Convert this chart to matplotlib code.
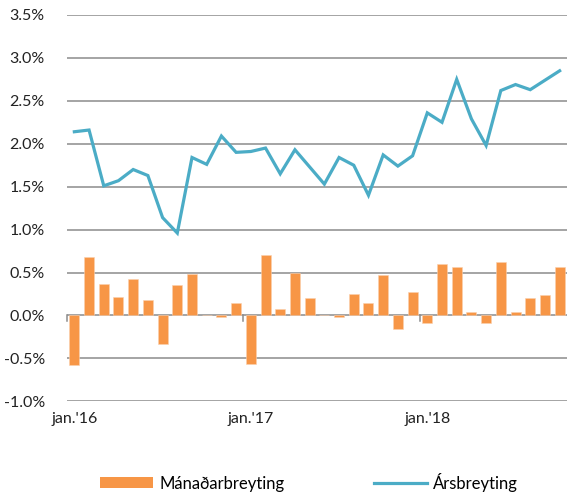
import matplotlib
matplotlib.use("Agg")
import matplotlib.pyplot as plt
from matplotlib.patches import Patch
from matplotlib.lines import Line2D
import numpy as np

plt.rcParams['font.family'] = ['Lato', 'DejaVu Sans']

monthly = [-0.58, 0.68, 0.37, 0.21, 0.42, 0.18, -0.33, 0.35, 0.48, 0.0,
           -0.02, 0.14, -0.57, 0.71, 0.07, 0.50, 0.20, 0.0, -0.02, 0.25,
           0.14, 0.47, -0.16, 0.27, -0.09, 0.60, 0.56, 0.04, -0.09, 0.62,
           0.04, 0.20, 0.24, 0.57]
annual = [2.14, 2.16, 1.51, 1.57, 1.70, 1.63, 1.14, 0.96, 1.84, 1.76,
          2.09, 1.90, 1.91, 1.95, 1.65, 1.93, 1.73, 1.53, 1.84, 1.75,
          1.40, 1.87, 1.74, 1.86, 2.36, 2.25, 2.75, 2.29, 1.98, 2.62,
          2.69, 2.63, 2.74, 2.85]
yticks = [-1.0, -0.5, 0.0, 0.5, 1.0, 1.5, 2.0, 2.5, 3.0, 3.5]
xlabel_idx = [0, 12, 24]
xlabels = ["jan.'16", "jan.'17", "jan.'18"]

orange = '#F79646'
aqua = '#4BACC6'
grid = '#8C8C8C'

fig = plt.figure(figsize=(5.67, 4.96), dpi=100)
ax = fig.add_axes([67/567, 1 - 401.3/496, 500/567, (401.3 - 15)/496])

x = np.arange(len(monthly))
ax.bar(x, monthly, width=0.68, color=orange, edgecolor='#FBD0AE', linewidth=0.4, zorder=3)
ax.plot(x, annual, color=aqua, linewidth=2.3, zorder=4, solid_joinstyle='miter')

ax.set_xlim(-0.5, len(monthly) - 0.5)
ax.set_ylim(-1.0, 3.5)
ax.set_yticks(yticks)
ax.set_yticklabels([f"{v:.1f}%" for v in yticks], fontsize=11.5, color='#222222')
for v in yticks:
    ax.axhline(v, color=grid, linewidth=1.1, zorder=1)
ax.tick_params(axis='y', length=0, pad=16)

ax.set_xticks(xlabel_idx)
ax.set_xticklabels(xlabels, fontsize=11.5, color='#222222')
ax.tick_params(axis='x', length=0, pad=8)
# boundary tick marks on the zero line
for b in [-0.5, 11.5, 23.5]:
    ax.plot([b, b], [0, -0.06], color=grid, linewidth=1.1, zorder=2, clip_on=False)

for s in ax.spines.values():
    s.set_visible(False)

handles = [Patch(facecolor=orange, edgecolor='none'),
           Line2D([0], [0], color=aqua, linewidth=2.3)]
fig.legend(handles, ["Mánaðarbreyting", "Ársbreyting"], loc='center',
           bbox_to_anchor=(0.545, 0.028), ncol=2, frameon=False, fontsize=12,
           handlelength=3.2, handleheight=0.65, handletextpad=0.35, columnspacing=5.4)

fig.savefig('out.png', dpi=100)
